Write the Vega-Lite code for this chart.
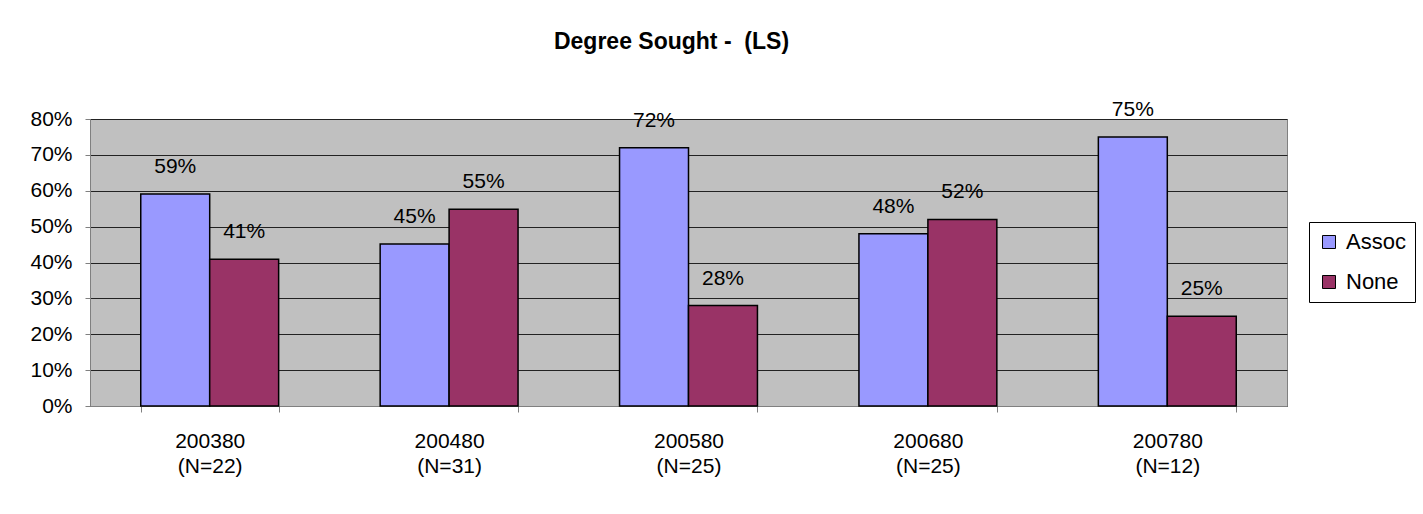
{
  "$schema": "https://vega.github.io/schema/vega-lite/v6.json",
  "autosize": "none",
  "width": 1197,
  "height": 287,
  "padding": {"left": 90, "top": 119, "right": 136, "bottom": 108},
  "background": "white",
  "title": {
    "text": "Degree Sought - \u00a0(LS)",
    "font": "Liberation Sans",
    "fontSize": 23,
    "fontWeight": "bold",
    "color": "black",
    "anchor": "middle",
    "dx": -17,
    "offset": 45
  },
  "data": {
    "values": [
      {"term": "200380|(N=22)", "series": "Assoc", "value": 0.5909},
      {"term": "200380|(N=22)", "series": "None", "value": 0.4091},
      {"term": "200480|(N=31)", "series": "Assoc", "value": 0.4516},
      {"term": "200480|(N=31)", "series": "None", "value": 0.5484},
      {"term": "200580|(N=25)", "series": "Assoc", "value": 0.72},
      {"term": "200580|(N=25)", "series": "None", "value": 0.28},
      {"term": "200680|(N=25)", "series": "Assoc", "value": 0.48},
      {"term": "200680|(N=25)", "series": "None", "value": 0.52},
      {"term": "200780|(N=12)", "series": "Assoc", "value": 0.75},
      {"term": "200780|(N=12)", "series": "None", "value": 0.25}
    ]
  },
  "encoding": {
    "x": {
      "field": "term",
      "type": "nominal",
      "sort": null,
      "scale": {"paddingInner": 0.424, "paddingOuter": 0.212},
      "axis": {
        "title": null,
        "labelAngle": 0,
        "labelExpr": "split(datum.label, '|')",
        "labelFont": "Liberation Sans",
        "labelFontSize": 21,
        "labelColor": "black",
        "labelLineHeight": 25,
        "labelPadding": 18,
        "tickBand": "extent",
        "tickSize": 6,
        "tickColor": "#808080",
        "domainColor": "#808080"
      }
    },
    "xOffset": {"field": "series", "type": "nominal", "scale": {"paddingInner": 0, "paddingOuter": 0}},
    "y": {
      "field": "value",
      "type": "quantitative",
      "scale": {"domain": [0, 0.8], "nice": false},
      "axis": {
        "title": null,
        "values": [0, 0.1, 0.2, 0.3, 0.4, 0.5, 0.6, 0.7, 0.8],
        "format": ".0%",
        "labelFont": "Liberation Sans",
        "labelFontSize": 21,
        "labelColor": "black",
        "labelPadding": 13,
        "tickSize": 5,
        "tickColor": "#808080",
        "domainColor": "#808080",
        "grid": true,
        "gridColor": "#222222",
        "gridWidth": 1
      }
    }
  },
  "layer": [
    {
      "mark": {"type": "bar", "stroke": "black", "strokeWidth": 1.5},
      "encoding": {
        "fill": {
          "field": "series",
          "type": "nominal",
          "scale": {"domain": ["Assoc", "None"], "range": ["#9999FF", "#993366"]},
          "legend": {
            "title": null,
            "orient": "none",
            "legendX": 1219,
            "legendY": 103,
            "symbolType": "square",
            "symbolSize": 169,
            "symbolStrokeColor": "black",
            "symbolStrokeWidth": 1,
            "labelFont": "Liberation Sans",
            "labelFontSize": 22,
            "labelColor": "black",
            "labelOffset": 6,
            "rowPadding": 18,
            "padding": 9,
            "strokeColor": "black",
            "fillColor": "white"
          }
        }
      }
    },
    {
      "mark": {
        "type": "text",
        "baseline": "alphabetic",
        "align": "center",
        "dy": -21,
        "font": "Liberation Sans",
        "fontSize": 21,
        "color": "black"
      },
      "encoding": {
        "text": {"field": "value", "type": "quantitative", "format": ".0%"}
      }
    }
  ],
  "config": {
    "view": {"fill": "#C0C0C0", "stroke": "#808080", "strokeWidth": 1},
    "axis": {"domainWidth": 1}
  }
}
